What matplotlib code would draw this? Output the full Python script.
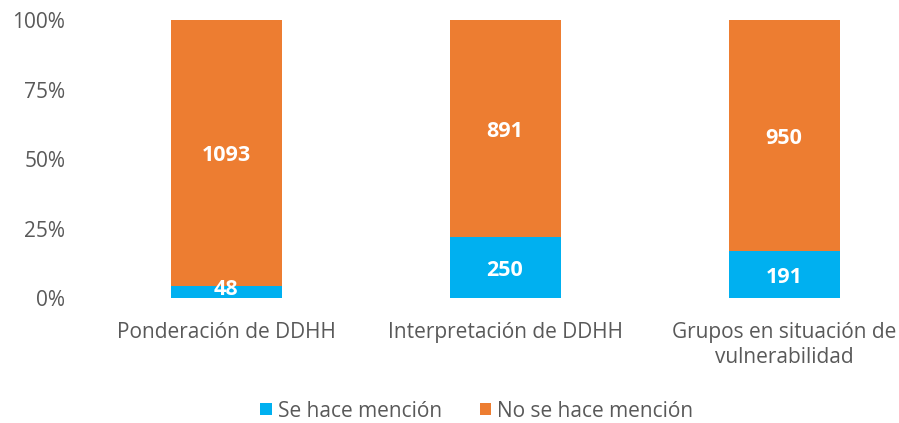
import matplotlib
matplotlib.use("Agg")
import matplotlib.pyplot as plt
import numpy as np

categories = ["Ponderación de DDHH", "Interpretación de DDHH", "Grupos en situación de\nvulnerabilidad"]
se_hace = [48, 250, 191]
no_se_hace = [1093, 891, 950]
series_names = ["Se hace mención", "No se hace mención"]
yticks = [0, 0.25, 0.5, 0.75, 1.0]
ytick_labels = ["0%", "25%", "50%", "75%", "100%"]

plt.rcParams['font.family'] = ['Open Sans', 'DejaVu Sans']
gray = "#595959"
blue = "#00B0F0"
orange = "#ED7D31"

W, H = 899, 423
fig = plt.figure(figsize=(W/100, H/100), dpi=100)
left_px, right_px = 75, 899
ax = fig.add_axes([left_px/W, (H-298)/H, (right_px-left_px)/W, (298-20)/H])

x = np.arange(len(categories))
tot = np.array(se_hace) + np.array(no_se_hace)
p1 = np.array(se_hace) / tot
p2 = np.array(no_se_hace) / tot
bw = 111/279
ax.bar(x, p1, width=bw, color=blue, label=series_names[0])
ax.bar(x, p2, width=bw, bottom=p1, color=orange, label=series_names[1])

for i in range(len(x)):
    y1 = p1[i]/2 if p1[i] > 0.1 else p1[i]/2 + 0.02
    ax.text(x[i], y1, str(se_hace[i]), ha="center", va="center_baseline",
            color="white", fontsize=15.5, fontweight="bold")
    ax.text(x[i], p1[i] + p2[i]/2, str(no_se_hace[i]), ha="center", va="center_baseline",
            color="white", fontsize=15.5, fontweight="bold")

# x mapping: pixel = 226 + 279*v
ax.set_xlim((left_px-226)/279, (right_px-226)/279)
ax.set_ylim(0, 1)
ax.set_yticks(yticks)
ax.set_yticklabels(ytick_labels, color=gray, fontsize=15)
ax.set_xticks(x)
ax.set_xticklabels(categories, color=gray, fontsize=15, linespacing=1.3, va="top")
ax.tick_params(axis="both", length=0)
ax.tick_params(axis="y", pad=7)
ax.tick_params(axis="x", pad=17)
for s in ax.spines.values():
    s.set_visible(False)

leg = fig.legend(loc="center", bbox_to_anchor=(477/W, 1-411/H), ncol=2, frameon=False,
                 fontsize=15, handlelength=0.55, handleheight=0.55, handletextpad=0.3,
                 columnspacing=1.8)
for t in leg.get_texts():
    t.set_color(gray)

fig.savefig("out.png", dpi=100)
